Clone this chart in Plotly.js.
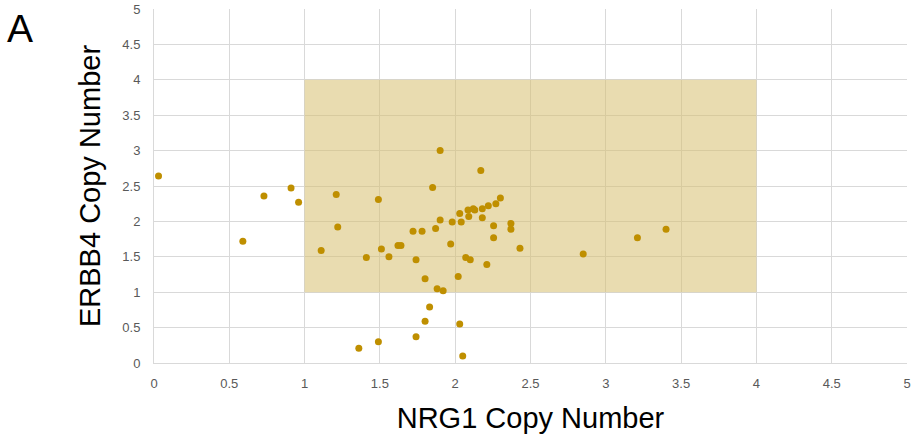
<!DOCTYPE html>
<html>
<head>
<meta charset="utf-8">
<script src="https://cdn.plot.ly/plotly-3.0.1.min.js"></script>
<style>html,body{margin:0;padding:0;background:#fff;}#chart{width:911px;height:444px;}</style>
</head>
<body>
<div id="chart"></div>
<script>
const nrg1 = [0.03,0.59,0.73,0.91,0.96,1.11,1.21,1.22,1.36,1.41,1.49,1.49,1.51,1.56,1.62,1.64,1.72,1.74,1.74,1.78,1.80,1.80,1.83,1.85,1.87,1.88,1.90,1.90,1.92,1.97,1.98,2.02,2.03,2.03,2.04,2.05,2.07,2.085,2.09,2.10,2.12,2.13,2.17,2.18,2.18,2.21,2.22,2.255,2.255,2.27,2.30,2.37,2.37,2.43,2.85,3.21,3.40];
const erbb4 = [2.64,1.72,2.36,2.47,2.27,1.59,2.38,1.92,0.21,1.49,2.31,0.30,1.61,1.50,1.66,1.66,1.86,1.46,0.37,1.86,1.19,0.59,0.79,2.48,1.90,1.05,3.00,2.02,1.02,1.68,1.99,1.22,2.11,0.55,1.99,0.10,1.49,2.16,2.07,1.46,2.18,2.16,2.72,2.18,2.05,1.39,2.22,1.94,1.77,2.25,2.33,1.97,1.89,1.62,1.54,1.77,1.89];
const regionX = [1, 4];
const regionY = [1, 4];
const tickVals = [0,0.5,1,1.5,2,2.5,3,3.5,4,4.5,5];
const tickText = ['0','0.5','1','1.5','2','2.5','3','3.5','4','4.5','5'];
const panelLabel = 'A';
const xTitle = 'NRG1 Copy Number';
const yTitle = 'ERBB4 Copy Number';

const font = 'Liberation Sans, Arial, sans-serif';
const axisCommon = {
  range: [0, 5], tickmode: 'array', tickvals: tickVals, ticktext: tickText,
  showgrid: true, gridcolor: '#d9d9d9', gridwidth: 1, zeroline: false,
  showline: true, linecolor: '#d9d9d9', linewidth: 1, mirror: false,
  ticks: '', tickfont: {family: font, size: 13, color: '#595959'},
  fixedrange: true
};
const layout = {
  width: 911, height: 444,
  margin: {l: 154, r: 4, t: 9, b: 81},
  paper_bgcolor: '#ffffff', plot_bgcolor: '#ffffff',
  showlegend: false,
  xaxis: Object.assign({}, axisCommon, {
    ticklabelstandoff: 8,
    title: {text: xTitle, font: {family: font, size: 29, color: '#000'}, standoff: 18}
  }),
  yaxis: Object.assign({}, axisCommon, {
    ticklabelstandoff: 10,
    title: {text: yTitle, font: {family: font, size: 29, color: '#000'}, standoff: 13}
  }),
  shapes: [{
    type: 'rect', xref: 'x', yref: 'y', layer: 'between',
    x0: regionX[0], x1: regionX[1], y0: regionY[0], y1: regionY[1],
    fillcolor: 'rgba(215,191,111,0.55)', line: {width: 0}
  }],
  annotations: [{
    text: panelLabel, xref: 'paper', yref: 'paper', x: -0.198, y: 1.012,
    xanchor: 'left', yanchor: 'top', showarrow: false,
    font: {family: font, size: 39, color: '#000'}
  }]
};
const data = [{
  type: 'scatter', mode: 'markers', x: nrg1, y: erbb4,
  marker: {color: '#bf8f00', size: 7, line: {width: 0}},
  hoverinfo: 'x+y'
}];
Plotly.newPlot('chart', data, layout, {displayModeBar: false, staticPlot: true});
</script>
</body>
</html>
